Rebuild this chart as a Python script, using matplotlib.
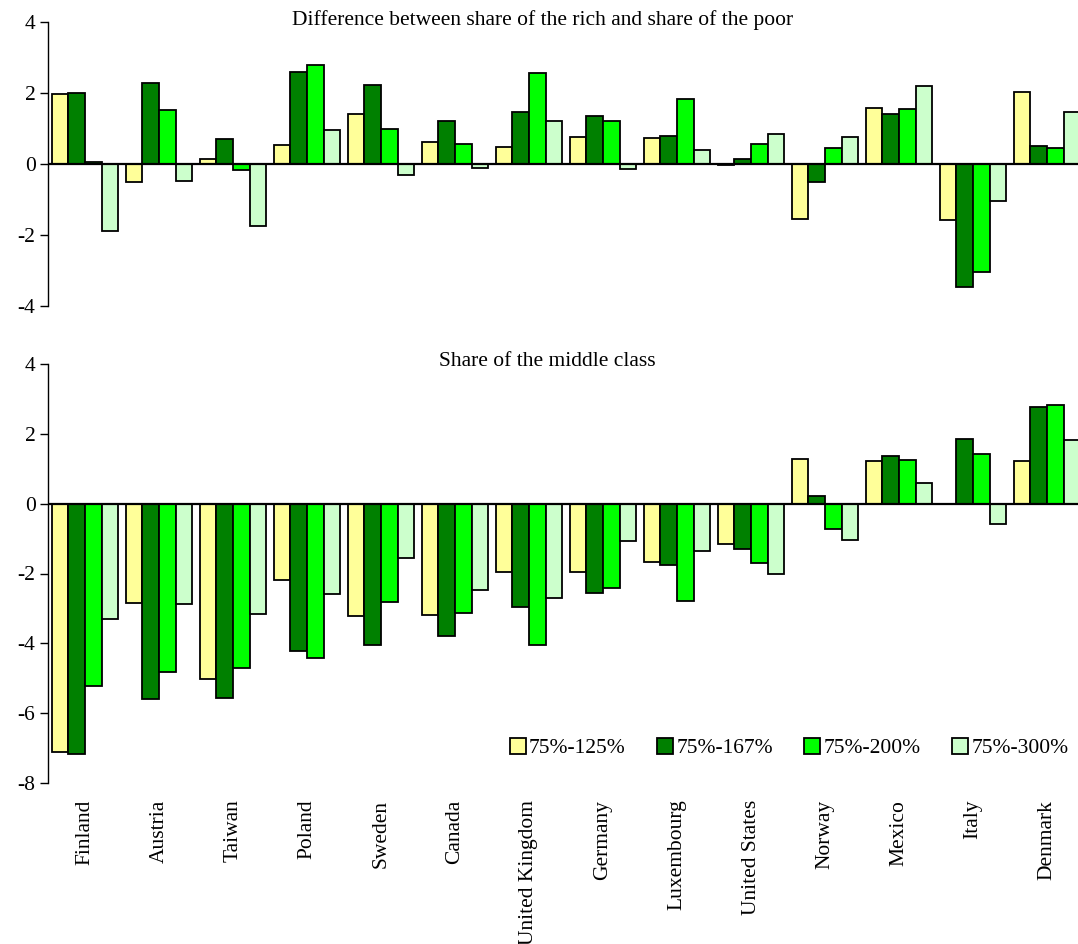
import numpy as np
import matplotlib
matplotlib.use("Agg")
from matplotlib import pyplot as plt

plt.rcParams['font.family'] = ['Liberation Serif', 'DejaVu Serif']

countries = ["Finland", "Austria", "Taiwan", "Poland", "Sweden", "Canada",
             "United Kingdom", "Germany", "Luxembourg", "United States",
             "Norway", "Mexico", "Italy", "Denmark"]
series = ["75%-125%", "75%-167%", "75%-200%", "75%-300%"]
colors = ["#FFFF99", "#008000", "#00FF00", "#CCFFCC"]

# Difference between share of the rich and share of the poor
rich_poor = {
    "75%-125%": [1.96, -0.51, 0.15, 0.54, 1.41, 0.62, 0.47, 0.75, 0.74, -0.02, -1.55, 1.57, -1.59, 2.04],
    "75%-167%": [2.00, 2.28, 0.71, 2.59, 2.23, 1.21, 1.46, 1.36, 0.80, 0.13, -0.52, 1.42, -3.47, 0.51],
    "75%-200%": [0.05, 1.51, -0.16, 2.78, 0.98, 0.55, 2.55, 1.21, 1.84, 0.55, 0.44, 1.55, -3.04, 0.46],
    "75%-300%": [-1.88, -0.49, -1.74, 0.95, -0.30, -0.12, 1.20, -0.15, 0.40, 0.84, 0.76, 2.21, -1.04, 1.46],
}

# Share of the middle class
middle = {
    "75%-125%": [-7.12, -2.85, -5.01, -2.19, -3.21, -3.19, -1.97, -1.96, -1.68, -1.16, 1.27, 1.21, -0.01, 1.23],
    "75%-167%": [-7.17, -5.59, -5.57, -4.21, -4.04, -3.78, -2.96, -2.56, -1.75, -1.30, 0.23, 1.36, 1.85, 2.78],
    "75%-200%": [-5.23, -4.82, -4.71, -4.41, -2.83, -3.14, -4.04, -2.42, -2.80, -1.71, -0.72, 1.26, 1.41, 2.82],
    "75%-300%": [-3.29, -2.87, -3.16, -2.59, -1.56, -2.48, -2.71, -1.07, -1.35, -2.02, -1.04, 0.58, -0.57, 1.82],
}

FS = 15.5
W, H = 1078, 944
fig = plt.figure(figsize=(W / 100, H / 100), dpi=100)

left = 48 / W
width = 14 * 74 / W
ax1 = fig.add_axes([left, 1 - 306 / H, width, 284 / H])
ax2 = fig.add_axes([left, 1 - 783 / H, width, 419 / H])

x = np.arange(len(countries))
bw = 0.223
offsets = (np.arange(4) - 1.5) * bw

def draw(ax, data, ylim, yticks):
    for k, s in enumerate(series):
        ax.bar(x + offsets[k], data[s], width=bw, color=colors[k],
               edgecolor="black", linewidth=1.3, label=s, zorder=2)
    ax.axhline(0, color="black", linewidth=1.6, zorder=3)
    ax.set_xlim(-0.5, 13.5)
    ax.set_ylim(*ylim)
    ax.set_yticks(yticks)
    ax.set_yticklabels([str(v) for v in yticks])
    for side in ["top", "right", "bottom"]:
        ax.spines[side].set_visible(False)
    ax.spines["left"].set_linewidth(1.0)
    ax.tick_params(axis="y", direction="out", length=6, width=1.0,
                   labelsize=FS, pad=3)
    ax.set_facecolor("none")

draw(ax1, rich_poor, (-4, 4), [-4, -2, 0, 2, 4])
ax1.set_xticks([])

draw(ax2, middle, (-8, 4), [-8, -6, -4, -2, 0, 2, 4])
ax2.set_xticks(x)
ax2.set_xticklabels(countries, rotation=90, fontsize=FS, va="top")
ax2.tick_params(axis="x", length=0, pad=12)

fig.text(543 / W, 1 - 20 / H, "Difference between share of the rich and share of the poor",
         ha="center", va="center", fontsize=FS)
fig.text(547 / W, 1 - 362 / H, "Share of the middle class",
         ha="center", va="center", fontsize=FS)

ax2.legend(loc="center", bbox_to_anchor=(789 / W, 1 - 748 / H),
           bbox_transform=fig.transFigure, ncol=4, frameon=False,
           fontsize=FS, handlelength=0.75, handleheight=0.75,
           handletextpad=0.15, columnspacing=1.45, borderpad=0)

fig.savefig("out.png", dpi=100)
